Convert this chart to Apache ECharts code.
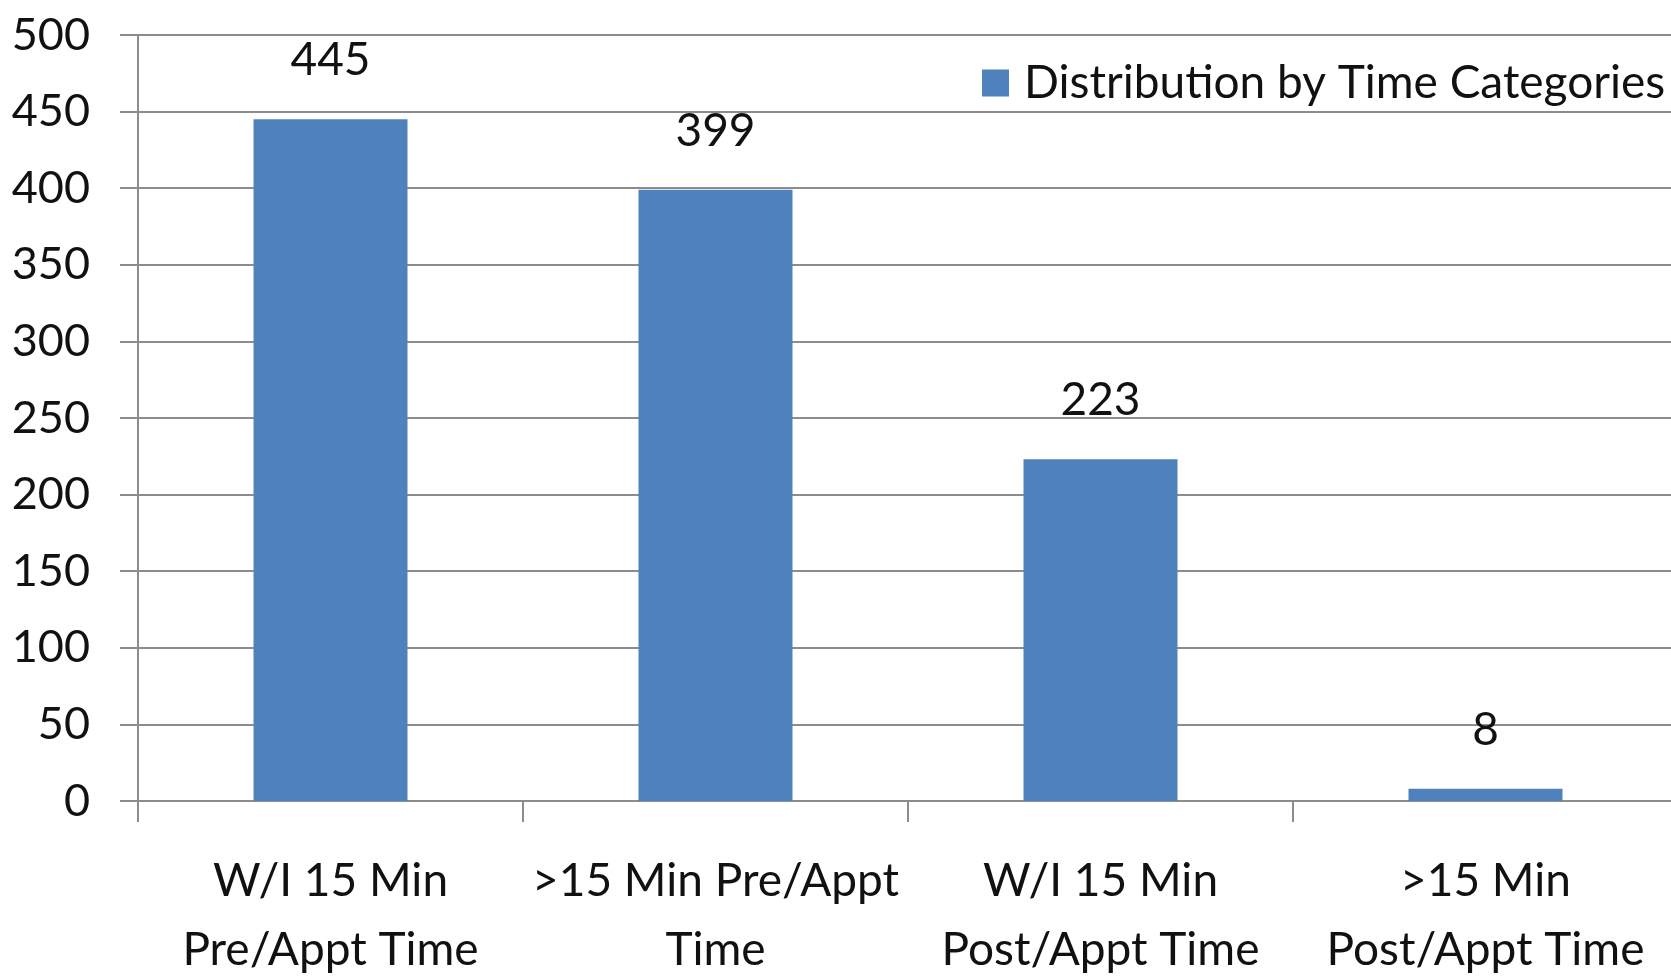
<!DOCTYPE html>
<html>
<head>
<meta charset="utf-8">
<script src="https://cdn.jsdelivr.net/npm/echarts@6/dist/echarts.min.js"></script>
<style>
  html, body { margin: 0; padding: 0; background: #ffffff; }
  #chart { width: 1671px; height: 978px; }
</style>
</head>
<body>
<div id="chart"></div>
<script>
// Appointment arrival counts grouped by timing category
const categories = [
  'W/I 15 Min\nPre/Appt Time',
  '>15 Min Pre/Appt\nTime',
  'W/I 15 Min\nPost/Appt Time',
  '>15 Min\nPost/Appt Time'
];
const seriesName = 'Distribution by Time Categories';
const counts = [445, 399, 223, 8];
const yTicks = { min: 0, max: 500, interval: 50 };

const FONT = 'Lato, "Open Sans", sans-serif';
const TEXT = '#111111';
const LINE = '#8c8c8c';

const chart = echarts.init(document.getElementById('chart'), null, { renderer: 'canvas' });
chart.setOption({
  backgroundColor: '#ffffff',
  animation: false,
  textStyle: { fontFamily: FONT, color: TEXT },
  grid: {
    left: 138, top: 35, bottom: 177, width: 1540,
    containLabel: false,
    outerBoundsMode: 'none'
  },
  legend: {
    data: [seriesName],
    left: 977,
    top: 55,
    icon: 'rect',
    itemWidth: 27,
    itemHeight: 27,
    textStyle: { fontFamily: FONT, fontSize: 46, color: TEXT, padding: [0, 0, 0, 10] }
  },
  xAxis: {
    type: 'category',
    data: categories,
    axisLine: { lineStyle: { color: LINE, width: 2 } },
    axisTick: { show: true, length: 21, lineStyle: { color: LINE, width: 2 } },
    axisLabel: {
      interval: 0,
      margin: 46,
      fontFamily: FONT,
      fontSize: 46,
      lineHeight: 69,
      color: TEXT
    }
  },
  yAxis: {
    type: 'value',
    min: yTicks.min,
    max: yTicks.max,
    interval: yTicks.interval,
    axisLine: { show: true, lineStyle: { color: LINE, width: 2 } },
    axisTick: { show: true, length: 18, lineStyle: { color: LINE, width: 2 } },
    axisLabel: { margin: 48, fontFamily: FONT, fontSize: 45, color: TEXT },
    splitLine: { show: true, lineStyle: { color: LINE, width: 2 } }
  },
  series: [{
    name: seriesName,
    type: 'bar',
    data: counts,
    barWidth: '40%',
    itemStyle: { color: '#4f81bd' },
    label: {
      show: true,
      position: 'top',
      distance: 36,
      fontFamily: FONT,
      fontSize: 46,
      color: TEXT
    }
  }]
});
</script>
</body>
</html>
